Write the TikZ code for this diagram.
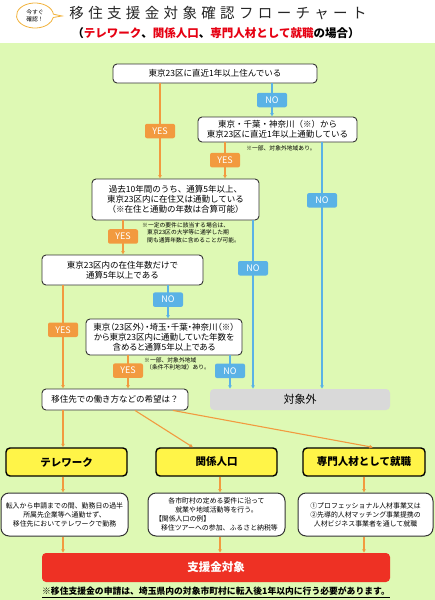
\documentclass[tikz,border=0pt]{standalone}
\usepackage{fontspec}
\setmainfont{Noto Sans CJK JP}
\newfontfamily\paltfont{Noto Sans CJK JP}[RawFeature=+palt]
\usetikzlibrary{arrows.meta,shapes.callouts}

\definecolor{bggreen}{HTML}{DEF9B4}
\definecolor{yesorange}{HTML}{F29A3F}
\definecolor{noblue}{HTML}{5AB2E6}
\definecolor{outgray}{HTML}{D9D9D9}
\definecolor{workyellow}{HTML}{FFF448}
\definecolor{targetred}{HTML}{EE3124}
\definecolor{titlered}{HTML}{E60012}
\definecolor{bubbleorange}{HTML}{F2B33D}

\tikzset{
  qbox/.style={draw=black!80, fill=white, line width=0.9pt, rounded corners=4pt,
    align=center, inner sep=1pt, font=\fontsize{8.5}{10}\selectfont},
  yeslbl/.style={fill=yesorange, text=white, rounded corners=2pt, minimum width=30pt,
    minimum height=14.5pt, inner sep=0pt, font=\fontsize{9}{9}\selectfont},
  nolbl/.style={yeslbl, fill=noblue},
  yesline/.style={draw=yesorange, line width=1.1pt, -{Latex[length=3.5pt,width=4pt]}},
  noline/.style={yesline, draw=noblue},
  notetext/.style={align=left, inner sep=0pt, font=\fontsize{5.8}{7.8}\selectfont},
  workbox/.style={draw=black, fill=workyellow, line width=1.4pt, rounded corners=4pt,
    minimum width=121pt, minimum height=28pt, font=\fontsize{10.5}{12}\selectfont\bfseries},
  descbox/.style={draw=black!80, fill=white, line width=1pt, rounded corners=8pt,
    minimum height=43pt, align=center, inner sep=1pt, font=\fontsize{6.9}{9}\selectfont}
}

\begin{document}
\begin{tikzpicture}[x=1pt,y=-1pt]

\useasboundingbox
(0,0)
rectangle
(435,600);

% Fond
\fill[white]
(0,0)
rectangle
(435,43);

\fill[bggreen]
(0,43)
rectangle
(435,600);

% Titre
\node[ellipse callout, draw=bubbleorange, fill=white, line width=0.8pt,
  minimum width=37pt, minimum height=25pt, inner sep=0pt, align=center,
  font=\fontsize{5.8}{7}\selectfont, callout absolute pointer={(62,16)}]
(bubble) at (35,15.5)
{今すぐ\\確認！};

\node[text=black!85, font=\fontsize{14.5}{16}\selectfont\addfontfeatures{LetterSpace=30}]
(title) at (218,13)
{移住支援金対象確認フローチャート};

\node[font=\fontsize{11.5}{13}\selectfont\bfseries]
(subtitle) at (216,33.5)
{（\textcolor{titlered}{テレワーク}、\textcolor{titlered}{関係人口}、\textcolor{titlered}{専門人材として就職}の場合）};

% Questions
\node[qbox, minimum width=204pt, minimum height=19pt]
(live23) at (215,73.5)
{東京23区に直近1年以上住んでいる};

\node[qbox, minimum width=159pt, minimum height=25pt]
(commute23) at (277.5,129.5)
{東京・千葉・神奈川（※）から\\東京23区に直近1年以上通勤している};

\node[notetext]
(noteA) at (281,148)
{※一部、対象外地域あり。};

\node[qbox, minimum width=167pt, minimum height=41pt]
(past10) at (175.5,199.5)
{過去10年間のうち、通算5年以上、\\東京23区内に在住又は通勤している\\（※在住と通勤の年数は合算可能）};

\node[notetext, anchor=north west]
(noteB) at (142,222)
{※一定の要件に該当する場合は、\\\hspace*{5pt}東京23区の大学等に通学した期\\\hspace*{5pt}間も通算年数に含めることが可能。};

\node[qbox, minimum width=161pt, minimum height=30pt]
(only23) at (122.5,270)
{東京23区内の在住年数だけで\\通算5年以上である};

\node[qbox, minimum width=156pt, minimum height=36pt, font=\fontsize{8.5}{10}\selectfont\paltfont]
(withcommute) at (164,337)
{東京（23区外）・埼玉・千葉・神奈川（※）\\から東京23区内に通勤していた年数を\\含めると通算5年以上である};

\node[notetext, anchor=north west]
(noteC) at (144,357)
{※一部、対象外地域\\\hspace*{2pt}（条件不利地域）あり。};

\node[qbox, minimum width=146pt, minimum height=21pt]
(wish) at (115,399.5)
{移住先での働き方などの希望は？};

\node[fill=outgray, rounded corners=4pt, minimum width=180pt, minimum height=21pt,
  font=\fontsize{11}{12}\selectfont]
(outside) at (300,399.5)
{対象外};

%働き方
\node[workbox]
(telework) at (66.5,462)
{テレワーク};

\node[workbox]
(kankei) at (216.5,462)
{関係人口};

\node[workbox, minimum width=122pt]
(senmon) at (364,462)
{専門人材として就職};

\node[descbox, minimum width=127pt]
(teleDesc) at (64.5,514.5)
{転入から申請までの間、勤務日の過半\\所属先企業等へ通勤せず、\\移住先においてテレワークで勤務};

\node[descbox, minimum width=137pt]
(kankeiDesc) at (216.5,514.5)
{各市町村の定める要件に沿って\\就業や地域活動等を行う。\\\makebox[123pt][l]{【関係人口の例】}\\\makebox[123pt][l]{\hspace*{6pt}移住ツアーへの参加、ふるさと納税等}};

\node[descbox, minimum width=135pt]
(senmonDesc) at (365.5,514.5)
{①プロフェッショナル人材事業又は\\②先導的人材マッチング事業提携の\\人材ビジネス事業者を通して就職};

\node[fill=targetred, rounded corners=4pt, minimum width=348pt, minimum height=29pt,
  text=white, font=\fontsize{11.5}{13}\selectfont\bfseries]
(target) at (216,567.5)
{支援金対象};

\node[font=\fontsize{8.8}{10}\selectfont\bfseries]
(footnote) at (216,592)
{\underline{※移住支援金の申請は、埼玉県内の対象市町村に転入後1年以内に行う必要があります。}};

% Colonnes
\coordinate (colA) at (160,0);
\coordinate (colB) at (225,0);
\coordinate (colC) at (322,0);
\coordinate (colD) at (123,0);
\coordinate (colE) at (253,0);
\coordinate (colF) at (168,0);
\coordinate (colG) at (63,0);
\coordinate (colH) at (128,0);
\coordinate (colI) at (230,0);
\coordinate (colJ) at (272,0);
\coordinate (colK) at (220,0);
\coordinate (colL) at (364,0);

% YES / NO
\draw[noline]
(live23.south -| colJ)
--
node[nolbl, pos=0.5]{NO}
(commute23.north -| colJ);

\draw[yesline]
(live23.south -| colA)
--
node[yeslbl, pos=0.5]{YES}
(past10.north -| colA);

\draw[yesline]
(commute23.south -| colB)
--
node[yeslbl, pos=0.49]{YES}
(past10.north -| colB);

\draw[noline]
(commute23.south -| colC)
--
node[nolbl, pos=0.235]{NO}
(outside.north -| colC);

\draw[yesline]
(past10.south -| colD)
--
node[yeslbl, pos=0.47]{YES}
(only23.north -| colD);

\draw[noline]
(past10.south -| colE)
--
node[nolbl, pos=0.284]{NO}
(outside.north -| colE);

\draw[noline]
(only23.south -| colF)
--
node[nolbl, pos=0.43]{NO}
(withcommute.north -| colF);

\draw[yesline]
(only23.south -| colG)
--
node[yeslbl, pos=0.43]{YES}
(wish.north -| colG);

\draw[yesline]
(withcommute.south -| colH)
--
node[yeslbl, pos=0.46]{YES}
(wish.north -| colH);

\draw[noline]
(withcommute.south -| colI)
--
node[nolbl, pos=0.46]{NO}
(outside.north -| colI);

% 希望
\draw[yesline]
(wish.south -| colG)
--
(telework.north -| colG);

\draw[yesline]
([xshift=20pt]wish.south)
--
([xshift=-23.5pt]kankei.north);

\draw[yesline]
([xshift=58pt]wish.south)
--
([xshift=9pt]senmon.north);

% 支援金対象
\draw[yesline] (telework.south -| colG) -- (teleDesc.north -| colG);
\draw[yesline] (kankei.south -| colK) -- (kankeiDesc.north -| colK);
\draw[yesline] (senmon.south -| colL) -- (senmonDesc.north -| colL);

\draw[yesline] (teleDesc.south -| colG) -- (target.north -| colG);
\draw[yesline] (kankeiDesc.south -| colK) -- (target.north -| colK);
\draw[yesline] (senmonDesc.south -| colL) -- (target.north -| colL);

\end{tikzpicture}
\end{document}
